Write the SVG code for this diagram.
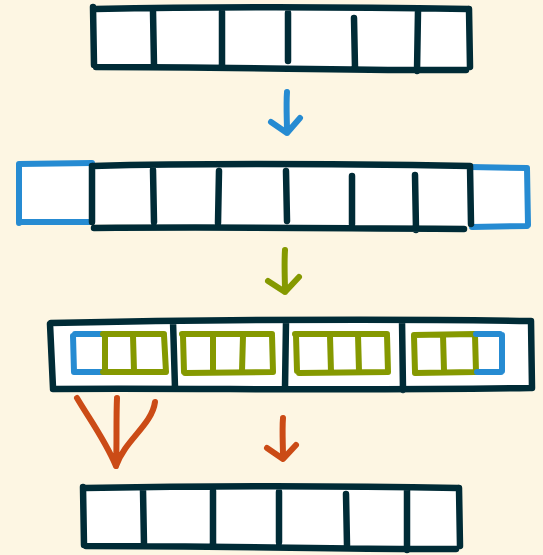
<svg xmlns="http://www.w3.org/2000/svg" width="543" height="555" viewBox="0 0 543 555">
<style>
.d{fill:none;stroke:#002b36;stroke-width:6.5;stroke-linecap:round;stroke-linejoin:round}
.b{fill:none;stroke:#268bd2;stroke-width:6;stroke-linecap:round;stroke-linejoin:round}
.g{fill:none;stroke:#859900;stroke-width:6;stroke-linecap:round;stroke-linejoin:round}
.o{fill:none;stroke:#cb4b16;stroke-width:6;stroke-linecap:round;stroke-linejoin:round}
.w{fill:#ffffff;stroke:none}
</style>
<rect width="543" height="555" fill="#fdf6e3"/>
<g id="row1">
<path class="w" d="M93,8 L470,8 L471,69 L94,67 Z"/>
<path class="d" d="M95,9 C200,7 350,7 468,9 M93,7 L94,65 M469,9 L470,67 M96,67 C250,67 350,71 466,70 M153,11 L154,66 M222,12 L222,66 M288,13 L288,61 M354,18 L355,68 M418,11 L417,71"/>
</g>
<g id="row2">
<path class="w" d="M18,164 L528,167 L528,226 L18,224 Z"/>
<path class="b" d="M19,164 L92,163 M19,164 L19,223 M20,222 L91,222 M470,167 L527,168 M527,168 L528,225 M472,227 L527,226"/>
<path class="d" d="M93,166 C200,163 350,164 470,166 M92,166 L92,222 M94,228 C200,227 350,228 464,229 M470,166 L471,224 M153,170 L154,222 M219,171 L218,223 M286,171 L287,221 M352,176 L352,224 M415,175 L416,230"/>
</g>
<g id="row3">
<path class="w" d="M50,322 L532,320 L533,388 L51,390 Z"/>
<path class="d" d="M51,323 C200,320 350,318 531,321 M50,324 L53,388 M53,389 C200,388 350,391 530,388 M531,321 L532,388 M173,321 L175,388 M286,322 L285,388 M402,320 L403,390"/>
</g>
<g id="arr1">
<path class="b" d="M75,334 L103,334 M73,336 L74,372 M75,372 L103,372"/>
<path class="g" d="M103,334 L164,334 M164,335 L166,372 M103,372 L165,372 M105,335 L105,371 M133,336 L134,371"/>
</g>
<g id="arr2">
<path class="g" d="M182,334 L272,334 M183,336 L184,372 M272,335 L273,372 M185,373 L272,372 M213,335 L213,371 M243,336 L242,371"/>
</g>
<g id="arr3">
<path class="g" d="M295,334 L387,334 M296,335 L297,371 M387,335 L388,372 M299,373 L388,372 M330,336 L331,372 M358,335 L359,371"/>
</g>
<g id="arr4">
<path class="g" d="M414,335 L475,334 M414,336 L415,372 M415,373 L475,372 M443,335 L444,371 M475,335 L476,372"/>
<path class="b" d="M476,334 L500,334 M502,335 L502,371 M477,372 L501,372"/>
</g>
<g id="row4">
<path class="w" d="M83,487 L460,487 L461,548 L84,546 Z"/>
<path class="d" d="M85,488 C200,486 350,486 458,488 M83,487 L84,545 M459,488 L460,546 M86,546 C250,546 350,550 456,549 M143,490 L144,545 M213,491 L213,545 M279,492 L279,542 M346,494 L347,545 M407,490 L407,550"/>
</g>
<g id="connectors">
<path class="b" d="M287,92 C286,105 287,120 287,133 M271,122 L287,133 L300,118"/>
<path class="g" d="M285,250 C284,265 285,280 285,292 M268,281 L285,292 L299,277"/>
<path class="o" d="M117,398 C116,420 117,445 116,466 M77,398 C90,420 105,440 116,466 M155,402 C152,425 125,440 116,466"/>
<path class="o" d="M283,418 C282,430 283,445 283,458 M267,448 L283,459 L296,445"/>
</g>
</svg>
